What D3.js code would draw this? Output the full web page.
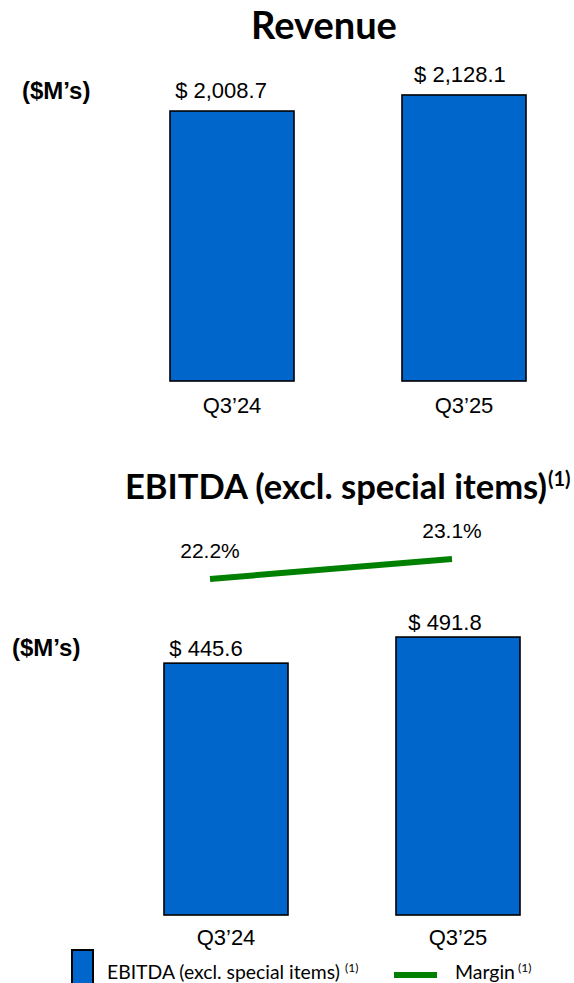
<!DOCTYPE html>
<html>
<head>
<meta charset="utf-8">
<script src="https://cdn.jsdelivr.net/npm/d3@7/dist/d3.min.js"></script>
<style>
  html, body { margin: 0; padding: 0; background: #fff; }
  svg { display: block; }
  .title { font-family: Lato, "Open Sans", sans-serif; font-weight: 700; fill: #000; }
  .lbl { font-family: "Liberation Sans", Arial, sans-serif; fill: #000; }
  .unit { font-family: "Liberation Sans", Arial, sans-serif; font-weight: 700; fill: #000; }
  .legend { font-family: Lato, "Open Sans", sans-serif; fill: #000; }
</style>
</head>
<body>
<script>
// Quarterly results: revenue and EBITDA (excl. special items), $M
const categories = ["Q3\u201924", "Q3\u201925"];
const revenue = [2008.7, 2128.1];
const ebitda = [445.6, 491.8];
const marginPct = [22.2, 23.1];

const W = 574, H = 983;
const BAR_FILL = "#0066CC";
const LINE_GREEN = "#008000";

const svg = d3.select("body").append("svg")
  .attr("width", W).attr("height", H)
  .attr("viewBox", `0 0 ${W} ${H}`);

const money = v => "$ " + d3.format(",.1f")(v);
const pct = v => d3.format(".1f")(v) + "%";

// scale a text node's font size so that it spans the given width
function fitWidth(node, width) {
  const sel = d3.select(node);
  const size = parseFloat(sel.style("font-size"));
  const w = node.getComputedTextLength();
  sel.style("font-size", (size * width / w).toFixed(2) + "px");
}

function barPanel(g, values, xRange, yScale, labelOffsets, labelGap, catY) {
  const x = d3.scaleBand().domain(categories).range(xRange)
    .paddingInner(0.4655).paddingOuter(0.25);
  const rows = categories.map((c, i) => ({ c, v: values[i], i }));

  g.selectAll("rect.bar").data(rows).join("rect")
    .attr("class", "bar")
    .attr("x", d => x(d.c))
    .attr("width", x.bandwidth())
    .attr("y", d => yScale(d.v))
    .attr("height", d => yScale(0) - yScale(d.v))
    .attr("fill", BAR_FILL)
    .attr("stroke", "#000")
    .attr("stroke-width", 1.6);

  g.selectAll("text.val").data(rows).join("text")
    .attr("class", "lbl val")
    .attr("x", d => x(d.c) + x.bandwidth() / 2 + labelOffsets[d.i])
    .attr("y", d => yScale(d.v) - labelGap)
    .attr("text-anchor", "middle")
    .style("font-size", "22px")
    .text(d => money(d.v));

  // category axis: labels only, no domain line or ticks
  const axis = g.append("g")
    .attr("transform", `translate(0,${catY})`)
    .call(d3.axisBottom(x).tickSize(0).tickPadding(0));
  axis.select(".domain").remove();
  axis.selectAll("text")
    .attr("class", "lbl")
    .attr("dy", 0)
    .attr("y", 0)
    .style("font-size", "22px")
    .style("font-family", "'Liberation Sans', Arial, sans-serif")
    .attr("fill", "#000");
  return x;
}

// ---------- Revenue ----------
const t1 = svg.append("text").attr("class", "title")
  .attr("x", 251).attr("y", 39)
  .style("font-size", "34px")
  .text("Revenue");
fitWidth(t1.node(), 146);

svg.append("text").attr("class", "unit")
  .attr("x", 22).attr("y", 99)
  .style("font-size", "24px")
  .text("($M\u2019s)");

const yRev = d3.scaleLinear().domain([0, 2500]).range([381, 45]);
barPanel(svg.append("g"), revenue, [112, 584], yRev, [-11, -4], 13, 413);

// ---------- EBITDA ----------
const t2main = svg.append("text").attr("class", "title")
  .attr("x", 125).attr("y", 499)
  .style("font-size", "34px")
  .text("EBITDA (excl. special items)");
fitWidth(t2main.node(), 422);
svg.append("text").attr("class", "title")
  .attr("x", 548).attr("y", 486)
  .style("font-size", "20px")
  .text("(1)");

const xm = d3.scalePoint().domain(categories).range([210, 452]);
const ym = d3.scaleLinear().domain([22, 24]).range([583.4, 539]);

svg.append("path")
  .datum(categories.map((c, i) => [xm(c), ym(marginPct[i])]))
  .attr("d", d3.line())
  .attr("fill", "none")
  .attr("stroke", LINE_GREEN)
  .attr("stroke-width", 6);

svg.selectAll("text.mlbl").data(marginPct).join("text")
  .attr("class", "lbl mlbl")
  .attr("x", (d, i) => xm(categories[i]))
  .attr("y", d => ym(d) - 21)
  .attr("text-anchor", "middle")
  .style("font-size", "21px")
  .text(d => pct(d));

svg.append("text").attr("class", "unit")
  .attr("x", 12).attr("y", 656)
  .style("font-size", "24px")
  .text("($M\u2019s)");

const yEb = d3.scaleLinear().domain([0, 500]).range([915, 632.4]);
barPanel(svg.append("g"), ebitda, [106, 578], yEb, [-20, -13], 7, 945);

// ---------- Legend ----------
const leg = svg.append("g");
leg.append("rect")
  .attr("x", 72).attr("y", 950).attr("width", 21).attr("height", 50)
  .attr("fill", BAR_FILL).attr("stroke", "#000").attr("stroke-width", 2);
const lt = leg.append("text").attr("class", "legend")
  .attr("x", 107).attr("y", 979).style("font-size", "18px")
  .text("EBITDA (excl. special items)");
fitWidth(lt.node(), 233);
leg.append("text").attr("class", "legend")
  .attr("x", 345).attr("y", 972).style("font-size", "12px")
  .text("(1)");

leg.append("line")
  .attr("x1", 394).attr("x2", 437).attr("y1", 975).attr("y2", 975)
  .attr("stroke", LINE_GREEN).attr("stroke-width", 6);
const mt = leg.append("text").attr("class", "legend")
  .attr("x", 455).attr("y", 979).style("font-size", "18px")
  .text("Margin");
fitWidth(mt.node(), 60);
leg.append("text").attr("class", "legend")
  .attr("x", 518).attr("y", 972).style("font-size", "12px")
  .text("(1)");
</script>
</body>
</html>
